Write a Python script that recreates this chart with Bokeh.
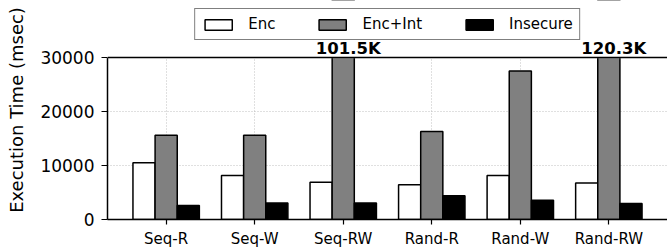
from bokeh.plotting import figure
from bokeh.models import (ColumnDataSource, FactorRange, Legend, LegendItem, LabelSet,
                          Span, FixedTicker, NumeralTickFormatter, Range1d, BoxAnnotation)
from bokeh.core.properties import value
from bokeh.transform import dodge
from bokeh.embed import file_html
from bokeh.resources import INLINE

categories = ["Seq-R", "Seq-W", "Seq-RW", "Rand-R", "Rand-W", "Rand-RW"]
enc = [10500, 8150, 6900, 6450, 8150, 6750]
enc_int = [15600, 15600, 101500, 16300, 27500, 120300]
insecure = [2600, 3050, 3050, 4400, 3550, 2950]
series_names = ["Enc", "Enc+Int", "Insecure"]
y_ticks = [0, 10000, 20000, 30000]
y_max = 30000
y_view_top = 40550   # extra room above the axes for the legend / value labels

FONT = "DejaVu Sans"

src = ColumnDataSource(dict(cat=categories, enc=enc, enc_int=enc_int, insecure=insecure))

over = [(c, v) for c, v in zip(categories, enc_int) if v > y_max]
lab_src = ColumnDataSource(dict(cat=[c for c, _ in over], y=[y_max] * len(over),
                                txt=[f"{v/1000:.1f}K" for _, v in over]))

p = figure(width=667, height=250, output_backend="svg", toolbar_location=None,
           x_range=FactorRange(*categories, factor_padding=0.0, range_padding=0.1625,
                               range_padding_units="absolute"),
           y_range=Range1d(0, y_view_top),
           min_border_left=107, min_border_right=0, min_border_top=0, min_border_bottom=29)
p.outline_line_color = None
p.background_fill_color = "white"
p.border_fill_color = "white"

bw = 0.25
r1 = p.vbar(x=dodge("cat", -0.25, range=p.x_range), top="enc", width=bw, source=src,
            fill_color="white", line_color="black", line_width=1.5)
r2 = p.vbar(x=dodge("cat", 0.0, range=p.x_range), top="enc_int", width=bw, source=src,
            fill_color="#808080", line_color="black", line_width=1.5)
r3 = p.vbar(x=dodge("cat", 0.25, range=p.x_range), top="insecure", width=bw, source=src,
            fill_color="black", line_color="black", line_width=1.5)

# everything above the axes box is blank (bars are cut at the top spine)
p.add_layout(BoxAnnotation(bottom=y_max, fill_color="white", fill_alpha=1.0,
                           line_color="white", line_width=2))
# top spine
p.add_layout(Span(location=y_max, dimension="width", line_color="black", line_width=1.5))

# labels for clipped bars
p.add_layout(LabelSet(x="cat", y="y", text="txt", source=lab_src, text_align="center",
                      text_baseline="bottom", x_offset=5, y_offset=-1, text_font=value(FONT),
                      text_font_size="16.5px", text_font_style="bold", text_color="black"))

# axes
p.yaxis.ticker = FixedTicker(ticks=y_ticks)
p.yaxis.bounds = (0, y_max)
p.yaxis.formatter = NumeralTickFormatter(format="0")
p.yaxis.axis_label = "Execution Time (msec)"
p.yaxis.axis_label_text_font = FONT
p.yaxis.axis_label_text_font_size = "18px"
p.yaxis.axis_label_text_font_style = "normal"
p.yaxis.axis_label_text_color = "black"
p.yaxis.axis_label_standoff = 10
for ax in (p.xaxis[0], p.yaxis[0]):
    ax.axis_line_color = "black"
    ax.axis_line_width = 1.5
    ax.major_tick_line_color = "black"
    ax.major_tick_line_width = 1.2
    ax.major_tick_in = 0
    ax.minor_tick_line_color = None
    ax.major_label_text_font = FONT
    ax.major_label_text_color = "black"
p.yaxis.major_tick_out = 6
p.yaxis.major_label_text_font_size = "17px"
p.yaxis.major_label_standoff = 7
p.xaxis.major_tick_out = 5
p.xaxis.major_label_text_font_size = "15px"
p.xaxis.major_label_standoff = 5

for g in (p.xgrid[0], p.ygrid[0]):
    g.grid_line_color = "#b0b0b0"
    g.grid_line_dash = "1 2"
    g.grid_line_width = 0.8
p.xgrid[0].bounds = (0, y_max)

legend = Legend(items=[LegendItem(label=series_names[0], renderers=[r1]),
                       LegendItem(label=series_names[1], renderers=[r2]),
                       LegendItem(label=series_names[2], renderers=[r3])],
                orientation="horizontal", location="top_center",
                glyph_width=34, glyph_height=13, label_standoff=13, spacing=40,
                padding=6, margin=8, label_height=17,
                label_text_font=FONT, label_text_font_size="15px", label_text_color="black",
                border_line_color="black", border_line_width=1.2,
                background_fill_alpha=1.0)
p.add_layout(legend, "center")

open("out.html", "w").write(file_html(p, INLINE))
